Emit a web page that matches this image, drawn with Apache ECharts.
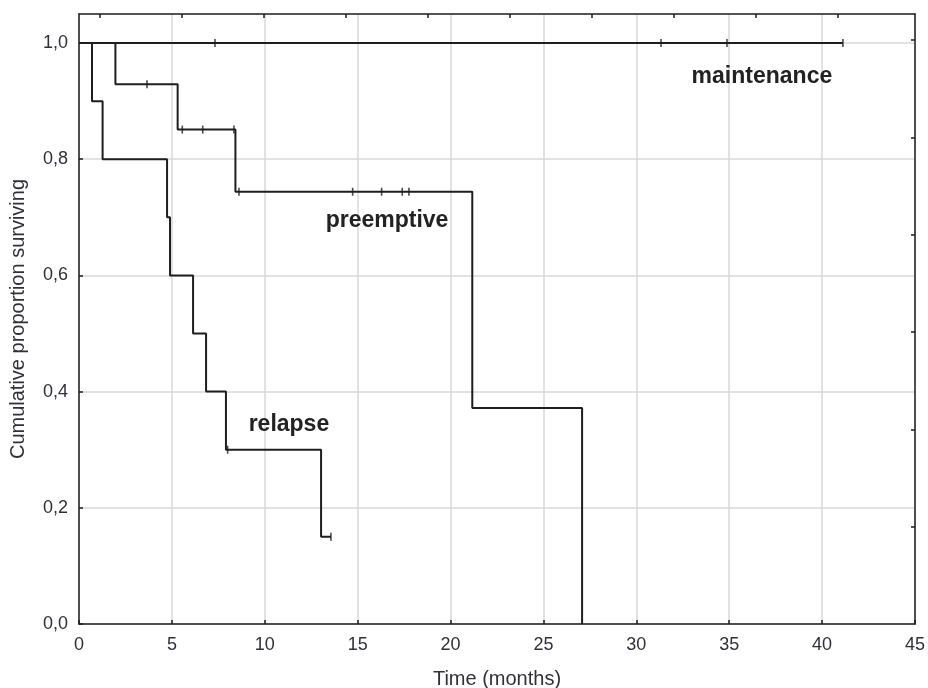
<!DOCTYPE html>
<html>
<head>
<meta charset="utf-8">
<script src="https://cdn.jsdelivr.net/npm/echarts@6/dist/echarts.min.js"></script>
<style>
  html, body { margin: 0; padding: 0; background: #fff; }
  #chart { width: 928px; height: 688px; }
</style>
</head>
<body>
<div id="chart"></div>
<script>
// Kaplan-Meier curves: [months, proportion surviving]
const maintenanceSteps = [[0, 1], [41.12, 1]];
const maintenanceCensored = [[7.32, 1], [31.33, 1], [34.88, 1], [41.12, 1]];

const preemptiveSteps = [[0, 1], [1.96, 0.929], [5.31, 0.851], [8.42, 0.744], [21.17, 0.372], [27.08, 0]];
const preemptiveCensored = [[3.66, 0.929], [5.56, 0.851], [6.66, 0.851], [8.34, 0.851],
  [8.61, 0.744], [14.73, 0.744], [16.29, 0.744], [17.40, 0.744], [17.76, 0.744]];

const relapseSteps = [[0, 1], [0.70, 0.90], [1.27, 0.80], [4.74, 0.70], [4.90, 0.60], [6.14, 0.50],
  [6.84, 0.40], [7.91, 0.30], [13.03, 0.15], [13.56, 0.15]];
const relapseCensored = [[8.0, 0.30], [13.56, 0.15]];

// curve names and where their labels sit (data coords)
const curveLabels = [
  { name: 'maintenance', coord: [36.76, 0.943] },
  { name: 'preemptive', coord: [16.58, 0.695] },
  { name: 'relapse', coord: [11.30, 0.3425] },
];

const yTicks = [0, 0.2, 0.4, 0.6, 0.8, 1.0];
const topTicks = [0, 1, 2, 3, 4, 5, 6, 7, 8, 9];
const rightTicks = [1, 2, 3, 4, 5, 6];

const ink = '#1e1e1e';
const textColor = '#30303a';
const gridColor = '#d9d9d9';
const font = 'Liberation Sans, Arial, sans-serif';

function stepSeries(data) {
  return {
    type: 'line',
    step: 'end',
    symbol: 'none',
    data,
    lineStyle: { color: ink, width: 2 },
    silent: true,
  };
}

function censorSeries(data) {
  return {
    type: 'scatter',
    symbol: 'rect',
    symbolSize: [1.6, 8],
    itemStyle: { color: ink },
    data,
    silent: true,
    z: 3,
  };
}

function frameAxisLine() {
  return { show: true, onZero: false, lineStyle: { color: ink, width: 1.5 } };
}

const chart = echarts.init(document.getElementById('chart'));
chart.setOption({
  animation: false,
  grid: { left: 79, top: 14, width: 836, height: 610, containLabel: false, outerBoundsMode: 'none' },
  xAxis: [
    {
      type: 'value', min: 0, max: 45, interval: 5,
      axisLine: frameAxisLine(),
      axisTick: { inside: true, length: 4, lineStyle: { color: ink, width: 1.5 } },
      axisLabel: { color: textColor, fontSize: 18, fontFamily: font, margin: 12 },
      splitLine: { lineStyle: { color: gridColor, width: 1.5 } },
      name: 'Time (months)', nameLocation: 'middle', nameGap: 45,
      nameTextStyle: { color: textColor, fontSize: 20, fontFamily: font },
    },
    {
      type: 'value', position: 'top', min: -21 / 82, max: 815 / 82,
      axisLine: frameAxisLine(),
      axisTick: { inside: true, length: 4, customValues: topTicks, lineStyle: { color: ink, width: 1.5 } },
      axisLabel: { show: false },
      splitLine: { show: false },
    },
  ],
  yAxis: [
    {
      type: 'value', min: 0, max: 1.05,
      axisLine: frameAxisLine(),
      axisTick: { inside: true, length: 4, customValues: yTicks, lineStyle: { color: ink, width: 1.5 } },
      axisLabel: {
        customValues: yTicks, color: textColor, fontSize: 18, fontFamily: font, margin: 11,
        formatter: v => v.toFixed(1).replace('.', ','),
      },
      splitLine: { lineStyle: { color: gridColor, width: 1.5 } },
      name: 'Cumulative proportion surviving', nameLocation: 'middle', nameGap: 51,
      nameTextStyle: { color: textColor, fontSize: 20, fontFamily: font },
    },
    {
      type: 'value', position: 'right', min: 0, max: 610 / 97.3,
      axisLine: frameAxisLine(),
      axisTick: { inside: true, length: 4, customValues: rightTicks, lineStyle: { color: ink, width: 1.5 } },
      axisLabel: { show: false },
      splitLine: { show: false },
    },
  ],
  series: [
    stepSeries(maintenanceSteps),
    stepSeries(preemptiveSteps),
    stepSeries(relapseSteps),
    censorSeries(maintenanceCensored),
    censorSeries(preemptiveCensored),
    censorSeries(relapseCensored),
    {
      type: 'scatter',
      symbolSize: 0,
      data: [],
      silent: true,
      markPoint: {
        symbol: 'circle',
        symbolSize: 0,
        label: {
          show: true, position: 'inside', color: '#222',
          fontSize: 23, fontWeight: 'bold', fontFamily: font,
          formatter: p => p.name,
        },
        data: curveLabels.map(l => ({ name: l.name, coord: l.coord })),
      },
    },
  ],
});
</script>
</body>
</html>
